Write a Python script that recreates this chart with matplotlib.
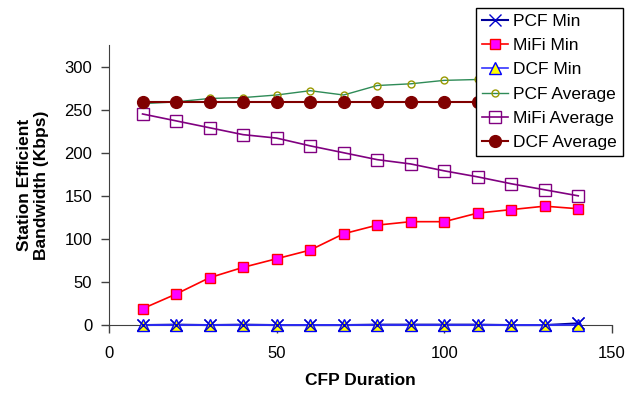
import matplotlib
matplotlib.use("Agg")
import matplotlib.pyplot as plt

plt.rcParams['font.family'] = ['Liberation Sans', 'DejaVu Sans']

cfp = [10, 20, 30, 40, 50, 60, 70, 80, 90, 100, 110, 120, 130, 140]
pcf_min = [0, 0.5, 0, 0.5, 0, 0, 0, 0.5, 0.5, 0.5, 0.5, 0, 0, 2]
mifi_min = [19, 36, 55, 67, 77, 87, 106, 116, 120, 120, 130, 134, 138, 135]
dcf_min = [0, 0, 0, 0, 0, 0, 0, 0, 0, 0, 0, 0, 0, 0]
pcf_avg = [257, 259, 263, 264, 267, 272, 267, 278, 280, 284, 285, 288, 290, 292]
mifi_avg = [245, 237, 229, 221, 217, 208, 200, 192, 187, 179, 172, 164, 157, 150]
dcf_avg = [259, 259, 259, 259, 259, 259, 259, 259, 259, 259, 259, 259, 259, 259]

labels = ["PCF Min", "MiFi Min", "DCF Min", "PCF Average", "MiFi Average", "DCF Average"]
xticks = [0, 50, 100, 150]
yticks = [0, 50, 100, 150, 200, 250, 300]

fig = plt.figure(figsize=(6.32, 3.95), dpi=100)
ax = fig.add_axes([0.1725, 0.177, 0.7955, 0.709])

h_pcfa, = ax.plot(cfp, pcf_avg, color='#2e8b57', lw=1, marker='o', ms=5, mfc='none', mec='#999900', mew=1, zorder=3)
h_mifia, = ax.plot(cfp, mifi_avg, color='#800080', lw=1.2, marker='s', ms=8.5, mfc='none', mec='#800080', mew=1, zorder=3)
h_dcfa, = ax.plot(cfp, dcf_avg, color='#800000', lw=1.5, marker='o', ms=8.5, mfc='#800000', mec='#800000', zorder=4)
h_mifim, = ax.plot(cfp, mifi_min, color='#ff0000', lw=1.2, marker='s', ms=7.5, mfc='#ff00ff', mec='#ff0000', mew=1, zorder=3)
h_pcfm, = ax.plot(cfp, pcf_min, color='#000099', lw=1.5, marker='x', ms=9, mec='#0000cc', mew=1, zorder=4, clip_on=False)
h_dcfm, = ax.plot(cfp, dcf_min, color='#3333ff', lw=1.2, marker='^', ms=8, mfc='#ffff00', mec='#0000ff', mew=1, zorder=5, clip_on=False)
ax.plot(cfp, pcf_min, ls='none', marker='x', ms=9, mec='#0000cc', mew=1, zorder=6, clip_on=False)

ax.set_xlim(0, 150)
ax.set_ylim(0, 325)
ax.set_xticks(xticks)
ax.set_yticks(yticks)
ax.tick_params(axis='both', labelsize=12, direction='out', length=6, color='#404040', width=1)
ax.tick_params(axis='x', pad=9)
ax.tick_params(axis='y', pad=6)
for s in ['top', 'right']:
    ax.spines[s].set_visible(False)
for s in ['left', 'bottom']:
    ax.spines[s].set_color('#404040')

ax.set_xlabel("CFP Duration", fontsize=12.5, fontweight='bold', labelpad=9)
ax.set_ylabel("Station Efficient\nBandwidth (Kbps)", fontsize=12.5, fontweight='bold', labelpad=11)

handles = [h_pcfm, h_mifim, h_dcfm, h_pcfa, h_mifia, h_dcfa]
leg = fig.legend(handles, labels, loc='upper right',
                 bbox_to_anchor=(0.986, 0.98), fontsize=12.5, frameon=True, fancybox=False,
                 edgecolor='black', framealpha=1, borderpad=0.35, labelspacing=0.52,
                 handlelength=1.5, handletextpad=0.3, borderaxespad=0)
leg.get_frame().set_linewidth(1)
leg.set_zorder(10)

fig.savefig("out.png", dpi=100)
